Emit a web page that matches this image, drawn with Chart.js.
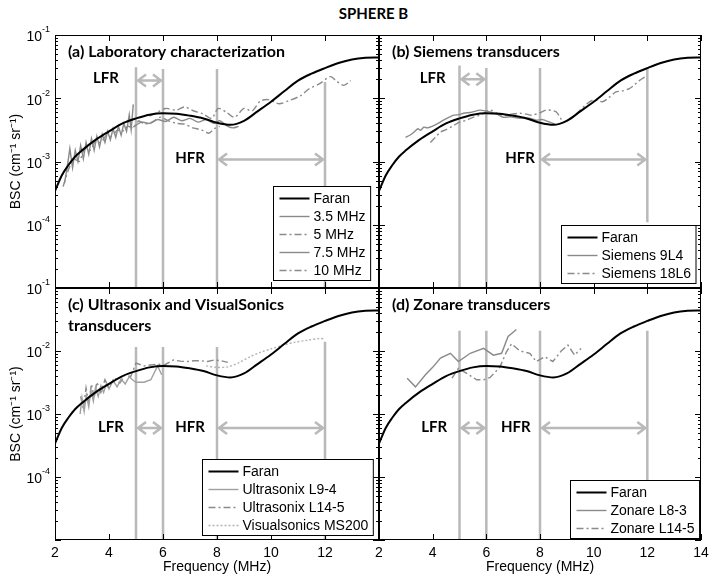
<!DOCTYPE html>
<html lang="en">
<head>
<meta charset="UTF-8">
<title>SPHERE B</title>
<script src="https://cdn.jsdelivr.net/npm/chart.js"></script>
<style>
  body { margin:0; background:#fff; }
  #wrap { position:relative; width:714px; height:582px; overflow:hidden; }
  #wrap canvas { position:absolute; left:0; top:0; }
  #title { position:absolute; left:0; width:747px; top:4px; text-align:center; font:bold 15px Lato, sans-serif; color:#000; }
</style>
</head>
<body>
<div id="wrap">
  <div id="title">SPHERE B</div>
  <canvas id="pa" width="714" height="582"></canvas>
  <canvas id="pb" width="714" height="582"></canvas>
  <canvas id="pc" width="714" height="582"></canvas>
  <canvas id="pd" width="714" height="582"></canvas>
</div>
<script>
// axes
const freqTicks = [2, 4, 6, 8, 10, 12, 14];
const bscDecades = [1e-1, 1e-2, 1e-3, 1e-4];
const Y_MIN = 1e-5, Y_MAX = 1e-1;

// LFR = 5-6 MHz, HFR = 8-12 MHz
const regionEdges = [5, 6, 8, 12];

// Faran theory [MHz, BSC]
const faran = [[2.0,3.4e-4],[2.25,6.0e-4],[2.5,8.8e-4],[2.75,1.2e-3],[3.0,1.5e-3],[3.5,2.2e-3],
  [4.0,3.0e-3],[4.5,4.0e-3],[5.0,4.8e-3],[5.5,5.5e-3],[6.0,5.8e-3],[6.5,5.7e-3],[7.0,5.3e-3],
  [7.5,4.8e-3],[8.0,4.1e-3],[8.5,3.8e-3],[9.0,4.4e-3],[9.5,6.2e-3],[10.0,8.8e-3],[10.5,1.3e-2],
  [11.0,1.9e-2],[11.5,2.45e-2],[12.0,3.0e-2],[12.5,3.6e-2],[13.0,4.1e-2],[13.5,4.35e-2],[14.0,4.4e-2]];

// (a) laboratory
const lab35 = [[2.35,4.5e-4],[2.45,8e-4],[2.55,1.6e-3],[2.65,8e-4],[2.75,1.5e-3],[2.85,1.0e-3],
  [2.95,1.8e-3],[3.05,1.1e-3],[3.15,2.0e-3],[3.25,1.3e-3],[3.35,2.3e-3],[3.45,1.5e-3],[3.55,2.5e-3],
  [3.65,1.7e-3],[3.75,2.7e-3],[3.85,2.0e-3],[3.95,3.0e-3],[4.05,2.2e-3],[4.15,3.3e-3],[4.25,2.4e-3],
  [4.35,3.6e-3],[4.45,2.6e-3],[4.55,4.0e-3],[4.65,3.0e-3],[4.75,5.5e-3],[4.82,3.2e-3],[4.9,8.0e-3]];
const lab5 = [[2.3,4.0e-4],[2.5,7.5e-4],[2.7,1.1e-3],[2.9,1.0e-3],[3.1,1.6e-3],[3.3,1.5e-3],
  [3.5,2.1e-3],[3.7,2.0e-3],[3.9,2.6e-3],[4.1,2.5e-3],[4.3,3.1e-3],[4.5,3.0e-3],[4.7,3.6e-3],
  [4.9,3.4e-3],[5.1,4.4e-3],[5.3,3.9e-3],[5.6,4.2e-3],[5.9,5.0e-3],[6.2,4.4e-3],[6.5,4.0e-3],
  [6.8,3.9e-3],[7.1,3.4e-3],[7.4,3.2e-3],[7.7,2.8e-3],[7.9,3.3e-3],[8.1,3.6e-3]];
const lab75 = [[4.9,3.5e-3],[5.2,4.2e-3],[5.5,4.0e-3],[5.8,4.6e-3],[6.1,4.3e-3],[6.4,5.0e-3],
  [6.7,4.4e-3],[7.0,4.8e-3],[7.3,4.2e-3],[7.6,4.6e-3],[7.9,4.0e-3],[8.1,4.4e-3],[8.4,3.6e-3],
  [8.6,3.4e-3],[8.8,3.6e-3]];
const lab10 = [[5.5,5.2e-3],[5.8,6.0e-3],[6.1,6.9e-3],[6.5,6.5e-3],[6.8,7.3e-3],[7.1,6.4e-3],
  [7.5,5.6e-3],[7.8,4.8e-3],[8.05,6.9e-3],[8.35,6.0e-3],[8.65,5.0e-3],[9.0,6.9e-3],[9.3,6.3e-3],
  [9.6,9.0e-3],[9.9,9.5e-3],[10.3,8.2e-3],[10.7,9.3e-3],[11.1,1.1e-2],[11.4,1.4e-2],[11.8,1.7e-2],
  [12.2,2.2e-2],[12.4,1.9e-2],[12.7,1.6e-2],[12.95,1.9e-2]];

// (b) Siemens
const siemens9L4 = [[2.99,2.4e-3],[3.15,2.6e-3],[3.3,2.9e-3],[3.45,3.3e-3],[3.55,3.1e-3],[3.67,3.5e-3],
  [3.8,3.4e-3],[4.04,3.7e-3],[4.2,4.0e-3],[4.4,4.5e-3],[4.6,5.0e-3],[4.78,5.4e-3],[5.0,5.5e-3],
  [5.15,5.8e-3],[5.45,6.0e-3],[5.76,6.5e-3],[6.14,6.1e-3],[6.4,5.6e-3],[6.63,5.0e-3],[6.9,5.1e-3],
  [7.25,4.8e-3],[7.55,4.9e-3],[7.86,4.5e-3],[8.1,4.6e-3],[8.36,4.2e-3],[8.55,3.9e-3]];
const siemens18L6 = [[3.91,2.0e-3],[4.1,2.4e-3],[4.28,2.9e-3],[4.5,3.2e-3],[4.78,3.7e-3],[5.0,4.2e-3],
  [5.27,4.5e-3],[5.5,5.0e-3],[5.76,5.4e-3],[5.95,6.0e-3],[6.14,6.5e-3],[6.4,5.8e-3],[6.63,5.4e-3],
  [6.95,5.6e-3],[7.25,5.8e-3],[7.5,5.6e-3],[7.7,5.4e-3],[8.0,5.9e-3],[8.23,6.5e-3],[8.45,6.4e-3],
  [8.6,6.1e-3],[8.75,5.0e-3],[8.86,4.2e-3],[9.05,4.6e-3],[9.22,5.0e-3],[9.5,6.5e-3],[9.75,8.2e-3],
  [9.96,9.3e-3],[10.15,9.2e-3],[10.33,8.8e-3],[10.6,1.05e-2],[10.83,1.26e-2],[11.05,1.3e-2],
  [11.3,1.4e-2],[11.5,1.6e-2],[11.7,1.9e-2],[11.93,2.2e-2]];

// (c) Ultrasonix / VisualSonics
const ultraL94 = [[2.93,1.0e-3],[3.0,1.8e-3],[3.08,1.1e-3],[3.16,2.0e-3],[3.25,1.3e-3],[3.33,2.4e-3],
  [3.42,1.6e-3],[3.5,2.6e-3],[3.6,1.9e-3],[3.7,2.8e-3],[3.8,2.2e-3],[3.9,3.0e-3],[4.0,2.5e-3],
  [4.15,3.4e-3],[4.3,2.7e-3],[4.45,3.6e-3],[4.6,3.0e-3],[4.75,3.9e-3],[4.9,3.4e-3],[5.0,3.2e-3],
  [5.3,3.2e-3],[5.55,3.5e-3],[5.8,5.8e-3],[5.95,4.2e-3]];
const ultraL145 = [[2.95,1.9e-3],[3.05,1.2e-3],[3.15,2.6e-3],[3.25,1.5e-3],[3.35,3.0e-3],[3.45,1.8e-3],
  [3.55,3.2e-3],[3.7,2.2e-3],[3.85,3.5e-3],[4.0,2.6e-3],[4.2,3.8e-3],[4.4,3.1e-3],[4.6,4.2e-3],
  [4.8,3.9e-3],[5.0,6.4e-3],[5.3,5.8e-3],[5.55,6.0e-3],[5.8,6.2e-3],[6.05,6.0e-3],[6.38,7.2e-3],
  [6.65,6.9e-3],[6.9,6.8e-3],[7.15,7.0e-3],[7.4,7.0e-3],[7.65,6.8e-3],[7.9,7.2e-3],[8.15,7.0e-3],
  [8.4,6.6e-3]];
const visualMS200 = [[7.6,5.8e-3],[8.0,5.5e-3],[8.4,5.6e-3],[8.8,6.5e-3],[9.22,8.1e-3],[9.6,9.5e-3],
  [10.0,1.08e-2],[10.46,1.24e-2],[10.9,1.38e-2],[11.35,1.48e-2],[11.8,1.58e-2],[12.0,1.55e-2]];

// (d) Zonare
const zonareL83 = [[3.05,3.7e-3],[3.36,2.7e-3],[3.73,4.2e-3],[4.0,5.5e-3],[4.29,7.7e-3],[4.66,9.2e-3],
  [4.96,6.8e-3],[5.4,9.2e-3],[5.9,1.1e-2],[6.26,8.6e-3],[6.57,9.2e-3],[6.81,1.7e-2],[7.12,2.2e-2]];
const zonareL145 = [[4.72,3.7e-3],[4.96,5.3e-3],[5.27,4.4e-3],[5.64,3.5e-3],[5.9,3.5e-3],[6.14,3.8e-3],
  [6.51,5.6e-3],[6.75,9.7e-3],[6.94,1.3e-2],[7.25,1.0e-2],[7.62,9.2e-3],[7.86,6.8e-3],[8.18,8.1e-3],
  [8.48,6.8e-3],[8.79,1.0e-2],[9.04,1.24e-2],[9.29,8.6e-3],[9.53,1.1e-2]];

// where the grey edge lines start / stop, per panel (BSC)
const edgeTopA = [3.1e-2, 2.9e-2, 2.9e-2, 1.8e-2];
const edgeTopB = [3.3e-2, 3.0e-2, 3.0e-2, 3.1e-2];
const edgeBottomB = [Y_MIN, Y_MIN, Y_MIN, 1.1e-4];
const edgeTopC = [1.16e-2, 1.16e-2, 1.16e-2, 1.4e-2];
const edgeTopD = [2.1e-2, 2.1e-2, 2.1e-2, 2.1e-2];

// arrow heights [LFR, HFR] and label anchors [text, MHz, BSC]
const arrowYA = [1.9e-2, 1.08e-3];
const arrowYB = [2.0e-2, 1.08e-3];
const arrowYC = [6.0e-4, 6.0e-4];
const arrowYD = [6.0e-4, 6.0e-4];
const bandLabelsA = [['LFR', 3.89, 2.1e-2], ['HFR', 7.0, 1.12e-3]];
const bandLabelsB = [['LFR', 4.0, 2.1e-2], ['HFR', 7.26, 1.12e-3]];
const bandLabelsC = [['LFR', 4.07, 6.2e-4], ['HFR', 7.0, 6.2e-4]];
const bandLabelsD = [['LFR', 4.06, 6.2e-4], ['HFR', 7.1, 6.2e-4]];

const GREY = '#8a8a8a', EDGE = '#b9b9b9';
const SOLID = { borderColor: GREY, borderWidth: 1.4 };
const DASHDOT = { borderColor: GREY, borderWidth: 1.4, borderDash: [7, 3, 2, 3] };
const DOTTED = { borderColor: '#b4b4b4', borderWidth: 1.4, borderDash: [2, 2] };
const FARAN = { borderColor: '#000', borderWidth: 2, cubicInterpolationMode: 'monotone' };

Chart.defaults.font.family = '"Liberation Sans", Arial, sans-serif';
Chart.defaults.color = '#000';

const decor = {
  id: 'decor',
  afterDatasetsDraw(chart, args, o) {
    const { ctx, chartArea: a, scales: { x, y } } = chart;
    ctx.save();
    // LFR / HFR arrows
    ctx.strokeStyle = EDGE; ctx.lineWidth = 2.5;
    [[regionEdges[0], regionEdges[1], o.arrowY[0]], [regionEdges[2], regionEdges[3], o.arrowY[1]]].forEach(([f1, f2, v]) => {
      const p1 = x.getPixelForValue(f1), p2 = x.getPixelForValue(f2), py = y.getPixelForValue(v);
      ctx.beginPath();
      ctx.moveTo(p1 + 2, py); ctx.lineTo(p2 - 2, py);
      ctx.moveTo(p1 + 10, py - 6); ctx.lineTo(p1 + 2, py); ctx.lineTo(p1 + 10, py + 6);
      ctx.moveTo(p2 - 10, py - 6); ctx.lineTo(p2 - 2, py); ctx.lineTo(p2 - 10, py + 6);
      ctx.stroke();
    });
    ctx.fillStyle = '#000';
    ctx.textAlign = 'center'; ctx.textBaseline = 'middle';
    ctx.font = 'bold 15px Lato, sans-serif';
    o.bands.forEach(([t, f, v]) => ctx.fillText(t, x.getPixelForValue(f), y.getPixelForValue(v)));
    // panel title
    ctx.textAlign = 'left';
    ctx.font = 'bold 16px Lato, sans-serif';
    o.title.forEach((line, i) => ctx.fillText(line, a.left + 13, a.top + 17 + i * 21));
    ctx.restore();
  },
  afterDraw(chart, args, o) {
    const { ctx, chartArea: a, scales: { x, y } } = chart;
    ctx.save();
    ctx.strokeStyle = '#000'; ctx.lineWidth = 1;
    ctx.strokeRect(a.left + 0.5, a.top + 0.5, a.right - a.left - 1, a.bottom - a.top - 1);
    ctx.beginPath();
    freqTicks.forEach(f => {
      const px = Math.round(x.getPixelForValue(f)) + 0.5;
      ctx.moveTo(px, a.bottom); ctx.lineTo(px, a.bottom - 6);
      ctx.moveTo(px, a.top); ctx.lineTo(px, a.top + 6);
    });
    for (let d = -5; d < -1; d++) {
      for (let m = 1; m <= 9; m++) {
        const py = Math.round(y.getPixelForValue(m * Math.pow(10, d))) + 0.5;
        const len = m === 1 ? 6 : 3;
        ctx.moveTo(a.left, py); ctx.lineTo(a.left + len, py);
        ctx.moveTo(a.right, py); ctx.lineTo(a.right - len, py);
      }
    }
    ctx.stroke();
    // decade labels 10^n
    if (o.yLabels) {
      ctx.fillStyle = '#000'; ctx.textBaseline = 'middle'; ctx.textAlign = 'left';
      bscDecades.forEach(v => {
        const py = y.getPixelForValue(v);
        const e = String(Math.round(Math.log10(v)));
        ctx.font = '9px "Liberation Sans", Arial';
        const ew = ctx.measureText(e).width;
        ctx.fillText(e, a.left - 5 - ew, py - 5);
        ctx.font = '14px "Liberation Sans", Arial';
        const bw = ctx.measureText('10').width;
        ctx.fillText('10', a.left - 5 - ew - bw, py + 2.5);
      });
    }
    // legend box
    const items = chart.data.datasets.filter(d => d.inLegend);
    ctx.font = '14px "Liberation Sans", Arial';
    const tw = Math.max(...items.map(d => ctx.measureText(d.label).width));
    const w = 6 + 30 + 4 + tw + 5, h = 12 + (items.length - 1) * 18 + 10;
    const bx = Math.round(a.right - o.inset[0] - w) + 0.5, by = Math.round(a.bottom - o.inset[1] - h) + 0.5;
    ctx.fillStyle = '#fff';
    ctx.fillRect(bx, by, w, h);
    ctx.strokeStyle = '#000'; ctx.lineWidth = 1;
    ctx.strokeRect(bx, by, w, h);
    items.forEach((d, i) => {
      const cy = by + 12 + i * 18;
      ctx.strokeStyle = d.borderColor; ctx.lineWidth = d.borderWidth;
      ctx.setLineDash(d.borderDash || []);
      ctx.beginPath(); ctx.moveTo(bx + 6, cy); ctx.lineTo(bx + 36, cy); ctx.stroke();
      ctx.setLineDash([]);
      ctx.fillStyle = '#000'; ctx.textAlign = 'left'; ctx.textBaseline = 'middle';
      ctx.fillText(d.label, bx + 40, cy + 1);
    });
    ctx.restore();
  }
};

function series(label, pts, style, tension) {
  return Object.assign({ label, data: pts.map(([x, y]) => ({ x, y })), pointRadius: 0, fill: false,
    tension: tension || 0, inLegend: true }, style);
}

function panel(id, cfg) {
  const datasets = [series('Faran', faran, FARAN)]
    .concat(cfg.series.map(([label, pts, style, t]) => series(label, pts, style, t)))
    .concat(regionEdges.map((e, i) => ({
      label: '', data: [{ x: e, y: cfg.edgeTop[i] }, { x: e, y: cfg.edgeBottom ? cfg.edgeBottom[i] : Y_MIN }],
      borderColor: EDGE, borderWidth: 2.5, pointRadius: 0, inLegend: false
    })));
  new Chart(document.getElementById(id), {
    type: 'line',
    data: { datasets },
    options: {
      responsive: false, animation: false, events: [],
      layout: { padding: cfg.pad },
      scales: {
        x: {
          type: 'linear', min: 2, max: 14, display: cfg.bottom,
          grid: { display: false, drawTicks: false }, border: { display: false },
          afterBuildTicks: s => { s.ticks = freqTicks.map(v => ({ value: v })); },
          ticks: { color: '#000', font: { size: 14 }, padding: 5, maxRotation: 0, autoSkip: false,
            callback: v => (cfg.hideLast && v === 14) ? '' : String(v) },
          title: { display: true, text: 'Frequency (MHz)', color: '#000', font: { size: 14 }, padding: { top: 0, bottom: 6 } },
          afterFit: s => { s.height = cfg.bottom ? 42 : 0; }
        },
        y: {
          type: 'logarithmic', min: Y_MIN, max: Y_MAX, display: cfg.left,
          grid: { display: false, drawTicks: false }, border: { display: false },
          ticks: { display: false },
          title: { display: true, text: 'BSC (cm⁻¹ sr⁻¹)', color: '#000', font: { size: 14 }, padding: { top: 8, bottom: 0 } },
          afterFit: s => { s.width = cfg.left ? 55 : 0; }
        }
      },
      plugins: {
        legend: { display: false }, tooltip: { enabled: false },
        decor: { title: cfg.title, arrowY: cfg.arrowY, bands: cfg.bands, yLabels: cfg.left, inset: cfg.inset }
      }
    },
    plugins: [decor]
  });
}

panel('pa', {
  pad: { left: 0, top: 35, right: 335, bottom: 294 }, left: true, bottom: false,
  title: ['(a) Laboratory characterization'], arrowY: arrowYA, bands: bandLabelsA, edgeTop: edgeTopA, inset: [9, 8],
  series: [['3.5 MHz', lab35, SOLID], ['5 MHz', lab5, DASHDOT, 0.2], ['7.5 MHz', lab75, SOLID, 0.2], ['10 MHz', lab10, DASHDOT, 0.3]]
});
panel('pb', {
  pad: { left: 379, top: 35, right: 13, bottom: 294 }, left: false, bottom: false,
  title: ['(b) Siemens transducers'], arrowY: arrowYB, bands: bandLabelsB, edgeTop: edgeTopB, edgeBottom: edgeBottomB, inset: [5, 5],
  series: [['Siemens 9L4', siemens9L4, SOLID, 0.2], ['Siemens 18L6', siemens18L6, DASHDOT, 0.3]]
});
panel('pc', {
  pad: { left: 0, top: 288, right: 335, bottom: 0 }, left: true, bottom: true, hideLast: true,
  title: ['(c) Ultrasonix and VisualSonics', 'transducers'], arrowY: arrowYC, bands: bandLabelsC, edgeTop: edgeTopC, inset: [6, 5],
  series: [['Ultrasonix L9-4', ultraL94, Object.assign({}, SOLID, { borderColor: '#a0a0a0' })], ['Ultrasonix L14-5', ultraL145, DASHDOT],
    ['Visualsonics MS200', visualMS200, DOTTED, 0.3]]
});
panel('pd', {
  pad: { left: 379, top: 288, right: 13, bottom: 0 }, left: false, bottom: true,
  title: ['(d) Zonare transducers'], arrowY: arrowYD, bands: bandLabelsD, edgeTop: edgeTopD, inset: [2, 2],
  series: [['Zonare L8-3', zonareL83, SOLID], ['Zonare L14-5', zonareL145, DASHDOT]]
});
</script>
</body>
</html>
